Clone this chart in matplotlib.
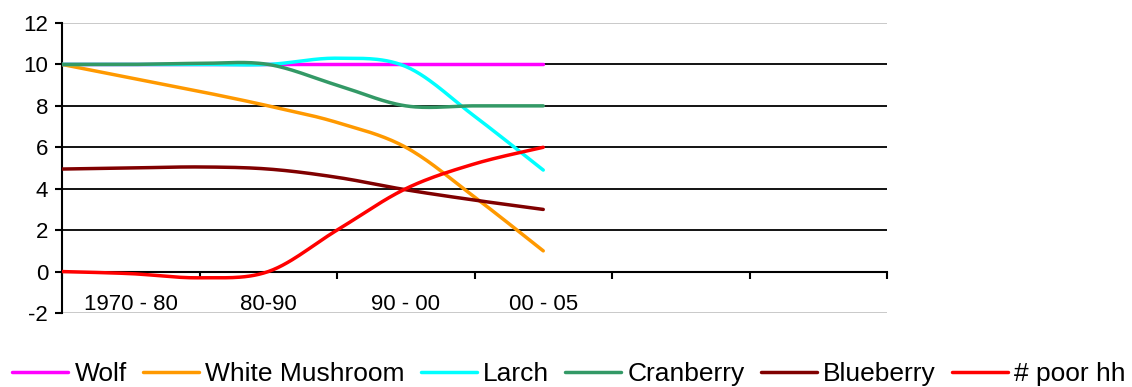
import numpy as np
import matplotlib
matplotlib.use("Agg")
import matplotlib.pyplot as plt

plt.rcParams['font.family'] = ['Liberation Sans', 'DejaVu Sans']

# ---- data ----
categories = ["", "1970 - 80", "", "80-90", "", "90 - 00", "", "00 - 05"]
n_slots = 13  # category slots on the axis (many empty on the right)

wolf = [10, 10, 10, 10, 10, 10, 10, 10]
white_mushroom = [10, 9.35, 8.7, 8.0, 7.2, 6.0, 3.6, 1.0]
larch = [10, 10, 10, 10, 10.3, 9.9, 7.5, 4.9]
cranberry = [10, 10, 10.05, 10, 9.0, 8.0, 8.0, 8.0]
blueberry = [4.95, 5.0, 5.05, 4.95, 4.55, 3.95, 3.45, 3.0]
poor_hh = [0, -0.1, -0.3, 0, 2.0, 4.0, 5.2, 6.0]

series_names = ["Wolf", "White Mushroom", "Larch", "Cranberry", "Blueberry", "# poor hh"]
series_values = [wolf, white_mushroom, larch, cranberry, blueberry, poor_hh]
series_colors = ["#FF00FF", "#FF9900", "#00FFFF", "#339966", "#800000", "#FF0000"]

y_ticks = [-2, 0, 2, 4, 6, 8, 10, 12]


def smooth(ys, n=30):
    """Excel-like smoothed line (Catmull-Rom as cubic Bezier)."""
    x = np.arange(len(ys), dtype=float)
    y = np.asarray(ys, dtype=float)
    P = np.column_stack([x, y])
    E = np.vstack([P[0], P, P[-1]])
    t = np.linspace(0, 1, n)[:, None]
    segs = []
    for i in range(len(P) - 1):
        p0, p1, p2, p3 = E[i], E[i + 1], E[i + 2], E[i + 3]
        c1 = p1 + (p2 - p0) / 6.0
        c2 = p2 - (p3 - p1) / 6.0
        seg = (1 - t) ** 3 * p1 + 3 * (1 - t) ** 2 * t * c1 + 3 * (1 - t) * t ** 2 * c2 + t ** 3 * p2
        segs.append(seg if i == 0 else seg[1:])
    S = np.vstack(segs)
    return S[:, 0], S[:, 1]


W, H = 1132, 387
fig = plt.figure(figsize=(W / 100, H / 100), dpi=100)
ax = fig.add_axes([62 / W, 1 - 313 / H, (887 - 62) / W, (313 - 23) / H])

for name, vals, col in zip(series_names, series_values, series_colors):
    xs, ys = smooth(vals)
    ax.plot(xs, ys, color=col, lw=2.5, label=name, solid_capstyle='round', zorder=3)

ax.set_xlim(0, n_slots - 1)
ax.set_ylim(y_ticks[0], y_ticks[-1])

# horizontal gridlines
for v in y_ticks:
    if v in (y_ticks[0], y_ticks[-1]):
        ax.axhline(v, color='#c0c0c0', lw=1.2, zorder=1)
    elif v != 0:
        ax.axhline(v, color='black', lw=1.3, zorder=1)

for s in ['top', 'right']:
    ax.spines[s].set_visible(False)
ax.spines['left'].set_linewidth(1.5)
ax.spines['bottom'].set_linewidth(1.5)
ax.spines['bottom'].set_position(('data', 0))
ax.spines['bottom'].set_zorder(2)

ax.set_yticks(y_ticks)
ax.set_yticklabels([str(v) for v in y_ticks])
ax.tick_params(axis='y', direction='out', length=5, width=1.5, pad=5, labelsize=16)

ax.set_xticks(range(0, n_slots, 2))
ax.set_xticklabels([])
ax.tick_params(axis='x', which='major', direction='out', length=5, width=1.5)
lab_pos = [i for i, c in enumerate(categories) if c]
ax.set_xticks(lab_pos, minor=True)
ax.set_xticklabels([categories[i] for i in lab_pos], minor=True)
ax.tick_params(axis='x', which='minor', length=0, pad=16, labelsize=16)

fig.legend(loc='center', bbox_to_anchor=(0.5027, 1 - 374 / H), ncol=6, frameon=False,
           fontsize=19, handlelength=2.12, handletextpad=0.25, columnspacing=0.6,
           borderpad=0, borderaxespad=0)

fig.savefig("out.png", dpi=100)
